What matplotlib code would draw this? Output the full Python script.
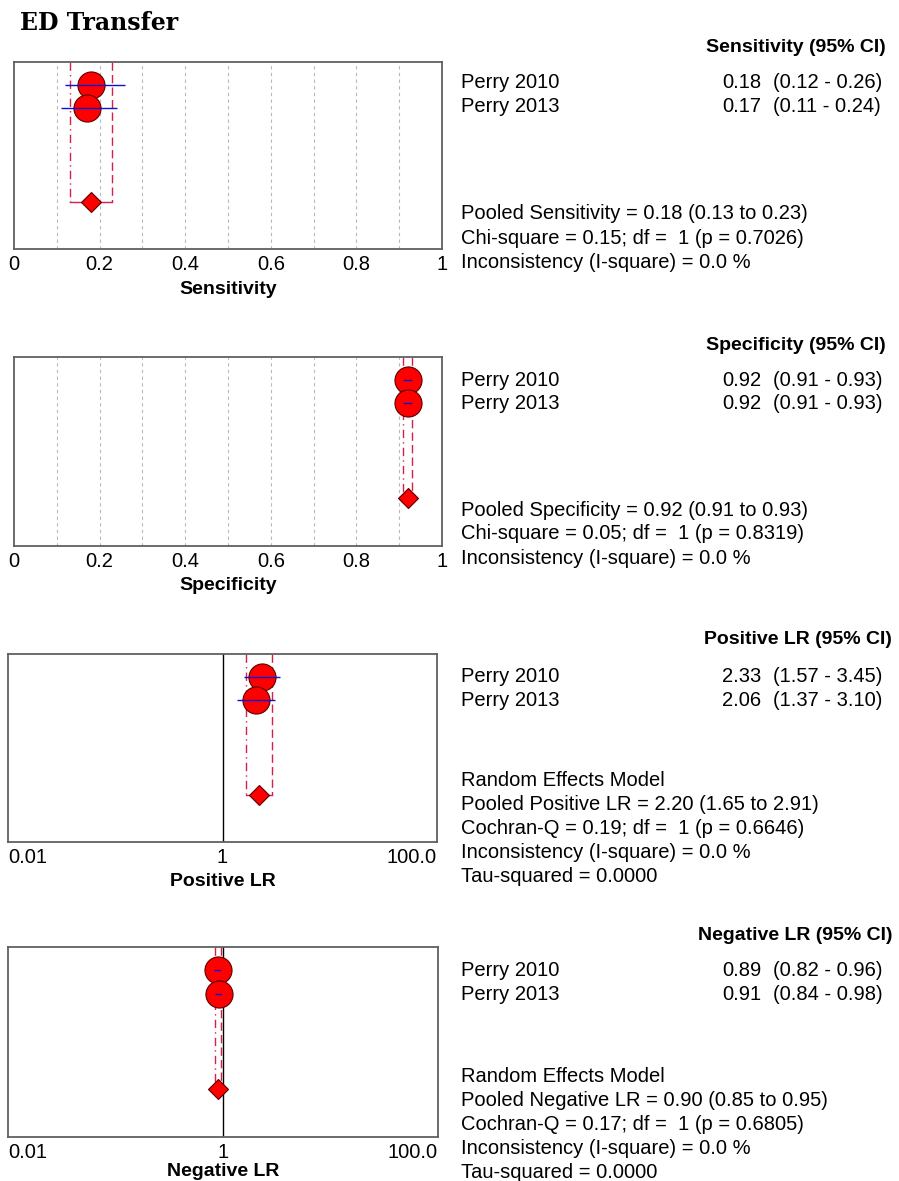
import numpy as np
import matplotlib
matplotlib.use('Agg')
import matplotlib.pyplot as plt

plt.rcParams['font.family'] = ['Liberation Sans', 'DejaVu Sans']

# study data
studies = ['Perry 2010', 'Perry 2013']

sens_est = [0.18, 0.17]
sens_lo = [0.12, 0.11]
sens_hi = [0.26, 0.24]
sens_pool = [0.18, 0.13, 0.23]

spec_est = [0.92, 0.92]
spec_lo = [0.91, 0.91]
spec_hi = [0.93, 0.93]
spec_pool = [0.92, 0.91, 0.93]

plr_est = [2.33, 2.06]
plr_lo = [1.57, 1.37]
plr_hi = [3.45, 3.10]
plr_pool = [2.20, 1.65, 2.91]

nlr_est = [0.89, 0.91]
nlr_lo = [0.82, 0.84]
nlr_hi = [0.96, 0.98]
nlr_pool = [0.90, 0.85, 0.95]

sens_stats = ['Pooled Sensitivity = 0.18 (0.13 to 0.23)',
              'Chi-square = 0.15; df =  1 (p = 0.7026)',
              'Inconsistency (I-square) = 0.0 %']
spec_stats = ['Pooled Specificity = 0.92 (0.91 to 0.93)',
              'Chi-square = 0.05; df =  1 (p = 0.8319)',
              'Inconsistency (I-square) = 0.0 %']
plr_stats = ['Random Effects Model',
             'Pooled Positive LR = 2.20 (1.65 to 2.91)',
             'Cochran-Q = 0.19; df =  1 (p = 0.6646)',
             'Inconsistency (I-square) = 0.0 %',
             'Tau-squared = 0.0000']
nlr_stats = ['Random Effects Model',
             'Pooled Negative LR = 0.90 (0.85 to 0.95)',
             'Cochran-Q = 0.17; df =  1 (p = 0.6805)',
             'Inconsistency (I-square) = 0.0 %',
             'Tau-squared = 0.0000']

W, H = 899, 1181
fig = plt.figure(figsize=(W / 100, H / 100), dpi=100)


def px_axes(x0, y0, x1, y1):
    return fig.add_axes([x0 / W, 1 - y1 / H, (x1 - x0) / W, (y1 - y0) / H])


def ftext(x, y, s, **kw):
    kw.setdefault('fontsize', 14.5)
    kw.setdefault('va', 'center')
    fig.text(x / W, 1 - y / H, s, **kw)


rows = [1, 2]
pool_row = 6.1
red = '#ff0000'
bracket = '#d6204a'


def forest(ax, est, lo, hi, pool):
    ax.set_ylim(8.15, 0)
    # pooled CI bracket
    ax.plot([pool[1], pool[1]], [0, pool_row], color=bracket, lw=1, ls=(0, (6, 3, 1, 3)), zorder=2)
    ax.plot([pool[2], pool[2]], [0, pool_row], color=bracket, lw=1, ls=(0, (6, 3)), zorder=2)
    ax.plot([pool[1], pool[2]], [pool_row, pool_row], color=bracket, lw=1, zorder=2)
    ax.plot(est, rows, 'o', ms=19.5, mfc=red, mec='#5a0000', mew=0.8, zorder=3)
    ax.hlines(rows, lo, hi, color='#1010d0', lw=1, zorder=4)
    ax.plot([pool[0]], [pool_row], 'D', ms=10, mfc=red, mec='#5a0000', mew=0.8, zorder=4)
    ax.set_yticks([])
    ax.tick_params(axis='x', length=0, labelsize=14.5, pad=4)
    for sp in ax.spines.values():
        sp.set_color('#606060')
        sp.set_linewidth(1.3)


def prop_axes(ax, label):
    ax.set_xlim(0, 1)
    ax.set_xticks([0, 0.2, 0.4, 0.6, 0.8, 1])
    ax.set_xticklabels(['0', '0.2', '0.4', '0.6', '0.8', '1'])
    for g in np.arange(0.1, 1.0, 0.1):
        ax.axvline(g, color='#b8b8b8', lw=0.8, ls=(0, (3, 3)), zorder=1)
    ax.set_xlabel(label, fontsize=14, fontweight='bold', labelpad=5)


def lr_axes(ax, label, pad=5):
    ax.set_xscale('log')
    ax.set_xlim(0.01, 100)
    ax.set_xticks([0.01, 1, 100])
    ax.set_xticklabels(['0.01', '1', '100.0'])
    ax.minorticks_off()
    tl = ax.get_xticklabels()
    tl[0].set_ha('left')
    tl[2].set_ha('right')
    ax.axvline(1, color='black', lw=1, zorder=1)
    ax.set_xlabel(label, fontsize=14, fontweight='bold', labelpad=pad)


# Sensitivity
ax1 = px_axes(14, 62, 442, 249)
forest(ax1, sens_est, sens_lo, sens_hi, sens_pool)
prop_axes(ax1, 'Sensitivity')

# Specificity
ax2 = px_axes(14, 357, 442, 546)
forest(ax2, spec_est, spec_lo, spec_hi, spec_pool)
prop_axes(ax2, 'Specificity')

# Positive LR
ax3 = px_axes(8, 654, 437, 842)
forest(ax3, plr_est, plr_lo, plr_hi, plr_pool)
lr_axes(ax3, 'Positive LR')

# Negative LR
ax4 = px_axes(8, 947, 438, 1137)
forest(ax4, nlr_est, nlr_lo, nlr_hi, nlr_pool)
lr_axes(ax4, 'Negative LR', pad=1)

ftext(20, 23, 'ED Transfer', fontsize=17, fontweight='bold', family='DejaVu Serif')

panels = [
    ('Sensitivity (95% CI)', 706, 48, [83, 107], sens_est, sens_lo, sens_hi, sens_stats, 214),
    ('Specificity (95% CI)', 706, 345, [380, 404], spec_est, spec_lo, spec_hi, spec_stats, 510),
    ('Positive LR (95% CI)', 704, 640, [676, 700], plr_est, plr_lo, plr_hi, plr_stats, 781),
    ('Negative LR (95% CI)', 698, 935, [970, 994], nlr_est, nlr_lo, nlr_hi, nlr_stats, 1077),
]

for head, hx, hy, ys, est, lo, hi, stats, sy in panels:
    ftext(hx, hy, head, fontsize=14, fontweight='bold')
    for name, y, e, l, h in zip(studies, ys, est, lo, hi):
        ftext(461, y, name)
        ftext(722, y, f'{e:.2f}')
        ftext(773, y, f'({l:.2f} - {h:.2f})')
    for i, s in enumerate(stats):
        ftext(461, sy + i * 24, s)

fig.savefig('out.png', dpi=100)
